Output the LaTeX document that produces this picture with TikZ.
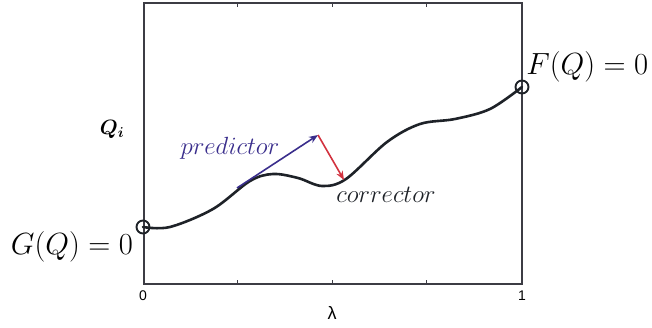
\documentclass[tikz,border=0pt]{standalone}
\usepackage{amsmath,bm}
\usepackage{fontspec}
\newfontfamily\arialfont{Liberation Sans}
\usetikzlibrary{arrows.meta}
\definecolor{predcol}{HTML}{3A2E8C}
\definecolor{corrcol}{HTML}{D2323F}
\definecolor{curvecol}{HTML}{1E2228}
\definecolor{axiscol}{HTML}{3C3C44}
\tikzset{
  axisline/.style={draw=axiscol, line width=1.1pt},
  tickmark/.style={draw=axiscol, line width=1pt},
  curveline/.style={draw=curvecol, line width=2.6pt, line cap=round},
  endcircle/.style={circle, draw=curvecol, line width=1.9pt, minimum size=13pt, inner sep=0pt},
  bigmath/.style={font=\fontsize{24.88}{28}\selectfont, inner sep=0pt, scale=1.23},
  arrowlab/.style={font=\fontsize{24.88}{26}\selectfont, inner sep=0pt},
  ticklab/.style={font=\arialfont\fontsize{14}{16}\selectfont, inner sep=0pt},
  predarrow/.style={draw=predcol, line width=1.6pt, -{Stealth[length=9pt,width=7pt]}},
  corrarrow/.style={draw=corrcol, line width=1.6pt, -{Stealth[length=9pt,width=7pt]}},
}
\begin{document}
\begin{tikzpicture}[x=1pt,y=-1pt]
\useasboundingbox (0,0) rectangle (652,328);
% axes box
\draw[axisline] (144,3) rectangle (522,284);
\foreach \tx in {237,332,426}{
  \draw[tickmark] (\tx,284) -- (\tx,280);
  \draw[tickmark] (\tx,3) -- (\tx,7);
}
% curve
\node[endcircle] (g) at (143,227) {};
\node[endcircle] (f) at (522,87) {};
\coordinate (pstart) at (237,188);
\coordinate (ptip) at (318,135);
\coordinate (ctip) at (344,180);
\draw[curveline] plot[smooth, tension=0.55] coordinates {
 (143,227) (170,227) (213,209) (250,181) (273,174)
 (298,178) (322,186) (346,179) (387,142) (420,124) (455,119)
 (490,109) (522,87)};
\draw[predarrow] (pstart) -- (ptip);
\draw[corrarrow] (ptip) -- (ctip);
% labels
\node[bigmath] (glab) at (72,247) {$G(Q)=0$};
\node[bigmath, anchor=west] (flab) at (526,67) {$F(Q)=0$};
\node[arrowlab, text=predcol] (plab) at (230,148) {$predictor$};
\node[arrowlab, text=curvecol] (clab) at (386,195) {$corrector$};
\node[font=\fontsize{20.74}{22}\selectfont, inner sep=0pt] (qlab) at (112,129) {$\bm{Q_i}$};
\node[ticklab] (zero) at (143,296) {0};
\node[ticklab] (one) at (522,296) {1};
\node[font=\arialfont\fontsize{18}{20}\selectfont, inner sep=0pt] (lam) at (332,313) {λ};
\end{tikzpicture}
\end{document}
